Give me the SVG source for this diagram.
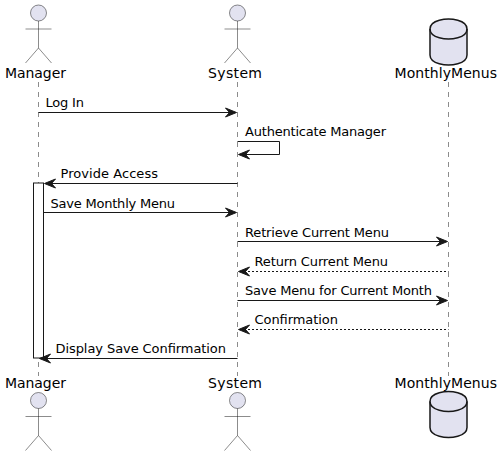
<svg xmlns="http://www.w3.org/2000/svg" width="503" height="456" viewBox="0 0 503 456">
<style>
text{font-family:"DejaVu Sans",sans-serif;fill:#000}
.p{font-size:14px}
.m{font-size:13px}
.life{stroke:#181818;stroke-width:.5;stroke-dasharray:5 5;fill:none}
.msg{stroke:#181818;stroke-width:1;fill:none}
.dash{stroke-dasharray:2 2}
.head{fill:#181818;stroke:#181818;stroke-width:1}
.fig{fill:none;stroke:#181818;stroke-width:.5}
.face{fill:#E2E2F0;stroke:#181818;stroke-width:.5}
.cyl{fill:#E2E2F0;stroke:#181818;stroke-width:1.5}
.cyl2{fill:none;stroke:#181818;stroke-width:1.5}
</style>
<defs>
<g id="actor"><circle class="face" cx="38.5" cy="13" r="8"/><path class="fig" d="M38.5 21V48M25.5 29H51.5M38.5 48L25.5 63M38.5 48L51.5 63"/></g>
<g id="db"><path class="cyl" d="M430 29C430 19 448.500 19 448.500 19C448.500 19 467 19 467 29V55C467 65 448.500 65 448.500 65C448.500 65 430 65 430 55Z"/><path class="cyl2" d="M430 29C430 39 448.500 39 448.500 39C448.500 39 467 39 467 29"/></g>
<path id="ar" class="head" d="M0 0L-11 -4.500L-7 0L-11 4.500Z"/>
<path id="al" class="head" d="M0 0L11 -4.500L7 0L11 4.500Z"/>
</defs>
<g id="lifelines">
<line class="life" x1="38.500" y1="82" x2="38.500" y2="376"/>
<line class="life" x1="237.500" y1="82" x2="237.500" y2="376"/>
<line class="life" x1="448.500" y1="82" x2="448.500" y2="376"/>
</g>
<g id="activation"><rect x="33.500" y="183" width="10" height="175" fill="#fff" stroke="#181818" stroke-width="1"/></g>
<g id="connectors">
<line class="msg" x1="38.500" y1="112.500" x2="235" y2="112.500"/><use href="#ar" x="236.500" y="112.500"/>
<path class="msg" d="M237.500 141.500H279.500V154.500H239"/><use href="#al" x="238.500" y="154.500"/>
<line class="msg" x1="46" y1="183.500" x2="237.500" y2="183.500"/><use href="#al" x="44.500" y="183.500"/>
<line class="msg" x1="43.500" y1="212.500" x2="235" y2="212.500"/><use href="#ar" x="236.500" y="212.500"/>
<line class="msg" x1="237.500" y1="241.500" x2="446" y2="241.500"/><use href="#ar" x="447.500" y="241.500"/>
<line class="msg dash" x1="240" y1="271.500" x2="448.500" y2="271.500"/><use href="#al" x="238.500" y="271.500"/>
<line class="msg" x1="237.500" y1="300.500" x2="446" y2="300.500"/><use href="#ar" x="447.500" y="300.500"/>
<line class="msg dash" x1="240" y1="329.500" x2="448.500" y2="329.500"/><use href="#al" x="238.500" y="329.500"/>
<line class="msg" x1="41" y1="358.500" x2="237.500" y2="358.500"/><use href="#al" x="39.500" y="358.500"/>
</g>
<g id="labels">
<text class="m" x="45.500" y="107" textLength="38.500">Log In</text>
<text class="m" x="245" y="136" textLength="141">Authenticate Manager</text>
<text class="m" x="60.500" y="178" textLength="97.500">Provide Access</text>
<text class="m" x="50.500" y="208" textLength="124.500">Save Monthly Menu</text>
<text class="m" x="245" y="237" textLength="144">Retrieve Current Menu</text>
<text class="m" x="254.500" y="266" textLength="133.500">Return Current Menu</text>
<text class="m" x="245" y="295" textLength="187">Save Menu for Current Month</text>
<text class="m" x="254.500" y="324" textLength="83.500">Confirmation</text>
<text class="m" x="55.500" y="353" textLength="170.500">Display Save Confirmation</text>
</g>
<g id="manager-top"><use href="#actor"/><text class="p" x="5" y="78" textLength="61">Manager</text></g>
<g id="system-top"><use href="#actor" x="199"/><text class="p" x="208" y="78" textLength="54">System</text></g>
<g id="monthlymenus-top"><use href="#db"/><text class="p" x="394.500" y="78" textLength="102.500">MonthlyMenus</text></g>
<g id="manager-bottom"><use href="#actor" y="387.500"/><text class="p" x="5" y="388" textLength="61">Manager</text></g>
<g id="system-bottom"><use href="#actor" x="199" y="387.500"/><text class="p" x="208" y="388" textLength="54">System</text></g>
<g id="monthlymenus-bottom"><use href="#db" y="372.500"/><text class="p" x="394.500" y="388" textLength="102.500">MonthlyMenus</text></g>
</svg>
